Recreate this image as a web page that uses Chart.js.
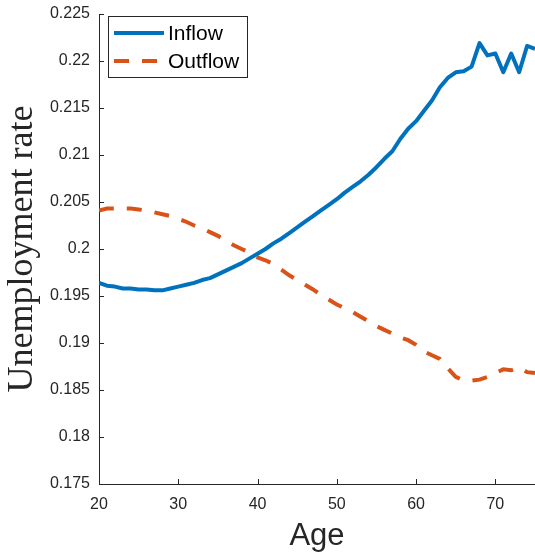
<!DOCTYPE html>
<html lang="en">
<head>
  <meta charset="UTF-8" />
  <title>Unemployment rate by age</title>
  <script src="https://cdn.jsdelivr.net/npm/chart.js"></script>
  <style>
    html, body { margin: 0; padding: 0; background: #fff; }
    #wrap { width: 535px; height: 559px; }
  </style>
</head>
<body>
  <div id="wrap"><canvas id="chart" width="535" height="559"></canvas></div>

  <script>
  const ages = [20,21,22,23,24,25,26,27,28,29,30,31,32,33,34,35,36,37,38,39,
                40,41,42,43,44,45,46,47,48,49,50,51,52,53,54,55,56,57,58,59,
                60,61,62,63,64,65,66,67,68,69,70,71,72,73,74,75];

  const inflow = [0.1964,0.1961,0.1960,0.1958,0.1958,0.1957,0.1957,0.1956,0.1956,0.1958,
                  0.1960,0.1962,0.1964,0.1967,0.1969,0.1973,0.1977,0.1981,0.1985,0.1990,
                  0.1995,0.2000,0.2006,0.2011,0.2017,0.2023,0.2029,0.2035,0.2041,0.2047,
                  0.2053,0.2060,0.2066,0.2072,0.2079,0.2087,0.2096,0.2104,0.2117,0.2128,
                  0.2136,0.2147,0.2158,0.2172,0.2182,0.2188,0.2189,0.2194,0.2219,0.2206,
                  0.2208,0.2188,0.2208,0.2188,0.2216,0.2213];

  const outflow = [0.2041,0.2043,0.2043,0.2043,0.2043,0.2042,0.2041,0.2039,0.2037,0.2035,
                   0.2032,0.2029,0.2025,0.2022,0.2018,0.2014,0.2009,0.2004,0.2000,0.1996,
                   0.1991,0.1988,0.1984,0.1978,0.1972,0.1967,0.1962,0.1957,0.1951,0.1946,
                   0.1941,0.1937,0.1933,0.1928,0.1923,0.1918,0.1914,0.1910,0.1906,0.1903,
                   0.1898,0.1891,0.1887,0.1883,0.1873,0.1864,0.1860,0.1860,0.1861,0.1864,
                   0.1868,0.1872,0.1871,0.1874,0.1869,0.1868];

  const xTicks = [20, 30, 40, 50, 60, 70];
  const yTicks = [0.175, 0.18, 0.185, 0.19, 0.195, 0.2, 0.205, 0.21, 0.215, 0.22, 0.225];
  const yTickLabels = ['0.175','0.18','0.185','0.19','0.195','0.2','0.205','0.21','0.215','0.22','0.225'];

  const AXIS = '#262626';
  const SANS = '"Liberation Sans", Arial, Helvetica, sans-serif';

  // short inward tick marks on both axes
  const inwardTicks = {
    id: 'inwardTicks',
    afterDatasetsDraw(chart) {
      const { ctx, chartArea: a, scales: { x, y } } = chart;
      ctx.save();
      ctx.strokeStyle = AXIS;
      ctx.lineWidth = 1;
      ctx.beginPath();
      xTicks.forEach(v => {
        const px = Math.round(x.getPixelForValue(v)) + 0.5;
        ctx.moveTo(px, a.bottom);
        ctx.lineTo(px, a.bottom - 5);
      });
      yTicks.forEach(v => {
        const py = Math.round(y.getPixelForValue(v)) + 0.5;
        ctx.moveTo(a.left, py);
        ctx.lineTo(a.left + 5, py);
      });
      ctx.stroke();
      ctx.restore();
    }
  };

  // boxed legend in the upper-left corner of the plot
  const boxLegend = {
    id: 'boxLegend',
    afterDraw(chart) {
      const { ctx } = chart;
      const bx = 108.5, by = 16.5, bw = 139, bh = 61;
      ctx.save();
      ctx.fillStyle = '#fff';
      ctx.fillRect(bx, by, bw, bh);
      ctx.strokeStyle = AXIS;
      ctx.lineWidth = 1;
      ctx.strokeRect(bx, by, bw, bh);
      chart.data.datasets.forEach((ds, i) => {
        const ly = 33 + i * 28;
        ctx.beginPath();
        ctx.strokeStyle = ds.borderColor;
        ctx.lineWidth = ds.borderWidth;
        ctx.lineCap = 'butt';
        ctx.setLineDash(ds.borderDash || []);
        ctx.moveTo(114, ly);
        ctx.lineTo(164, ly);
        ctx.stroke();
        ctx.setLineDash([]);
        ctx.fillStyle = '#000';
        ctx.font = '21px ' + SANS;
        ctx.textBaseline = 'middle';
        ctx.textAlign = 'left';
        ctx.fillText(ds.label, 168, ly + 1);
      });
      ctx.restore();
    }
  };

  new Chart(document.getElementById('chart'), {
    type: 'line',
    data: {
      datasets: [
        {
          label: 'Inflow',
          data: ages.map((a, i) => ({ x: a, y: inflow[i] })),
          borderColor: '#0072BD',
          borderWidth: 4,
          pointRadius: 0,
          tension: 0,
          fill: false,
          borderJoinStyle: 'round'
        },
        {
          label: 'Outflow',
          data: ages.map((a, i) => ({ x: a, y: outflow[i] })),
          borderColor: '#D95319',
          borderWidth: 4,
          borderDash: [15, 13],
          borderCapStyle: 'butt',
          pointRadius: 0,
          tension: 0,
          fill: false
        }
      ]
    },
    options: {
      responsive: false,
      animation: false,
      events: [],
      layout: { autoPadding: false, padding: { top: 14, left: 0, right: 0, bottom: 0 } },
      plugins: { legend: { display: false }, tooltip: { enabled: false } },
      scales: {
        x: {
          type: 'linear',
          min: 20,
          max: 75,
          afterBuildTicks: s => { s.ticks = xTicks.map(v => ({ value: v })); },
          afterFit: s => { s.height = 75; s.paddingRight = 0; },
          grid: { display: false, drawTicks: false },
          border: { display: true, color: AXIS, width: 1 },
          ticks: {
            color: AXIS,
            font: { family: SANS, size: 16 },
            padding: 11,
            maxRotation: 0,
            callback: v => String(v)
          },
          title: {
            display: true,
            text: 'Age',
            color: AXIS,
            font: { family: SANS, size: 31 },
            padding: { top: 0, bottom: 4 }
          }
        },
        y: {
          type: 'linear',
          min: 0.175,
          max: 0.225,
          afterBuildTicks: s => { s.ticks = yTicks.map(v => ({ value: v })); },
          // fixed axis width; the layout padding already leaves room for the top label
          afterFit: s => { s.width = 99; s.paddingTop = 0; s.paddingBottom = 0; },
          grid: { display: false, drawTicks: false },
          border: { display: true, color: AXIS, width: 1 },
          ticks: {
            color: AXIS,
            font: { family: SANS, size: 16 },
            padding: 9,
            callback: (v, i) => yTickLabels[i]
          },
          title: {
            display: true,
            text: 'Unemployment rate',
            color: AXIS,
            font: { family: '"Liberation Serif", "Times New Roman", serif', size: 36 },
            padding: { top: 1, bottom: 0 }
          }
        }
      }
    },
    plugins: [inwardTicks, boxLegend]
  });
  </script>
</body>
</html>
